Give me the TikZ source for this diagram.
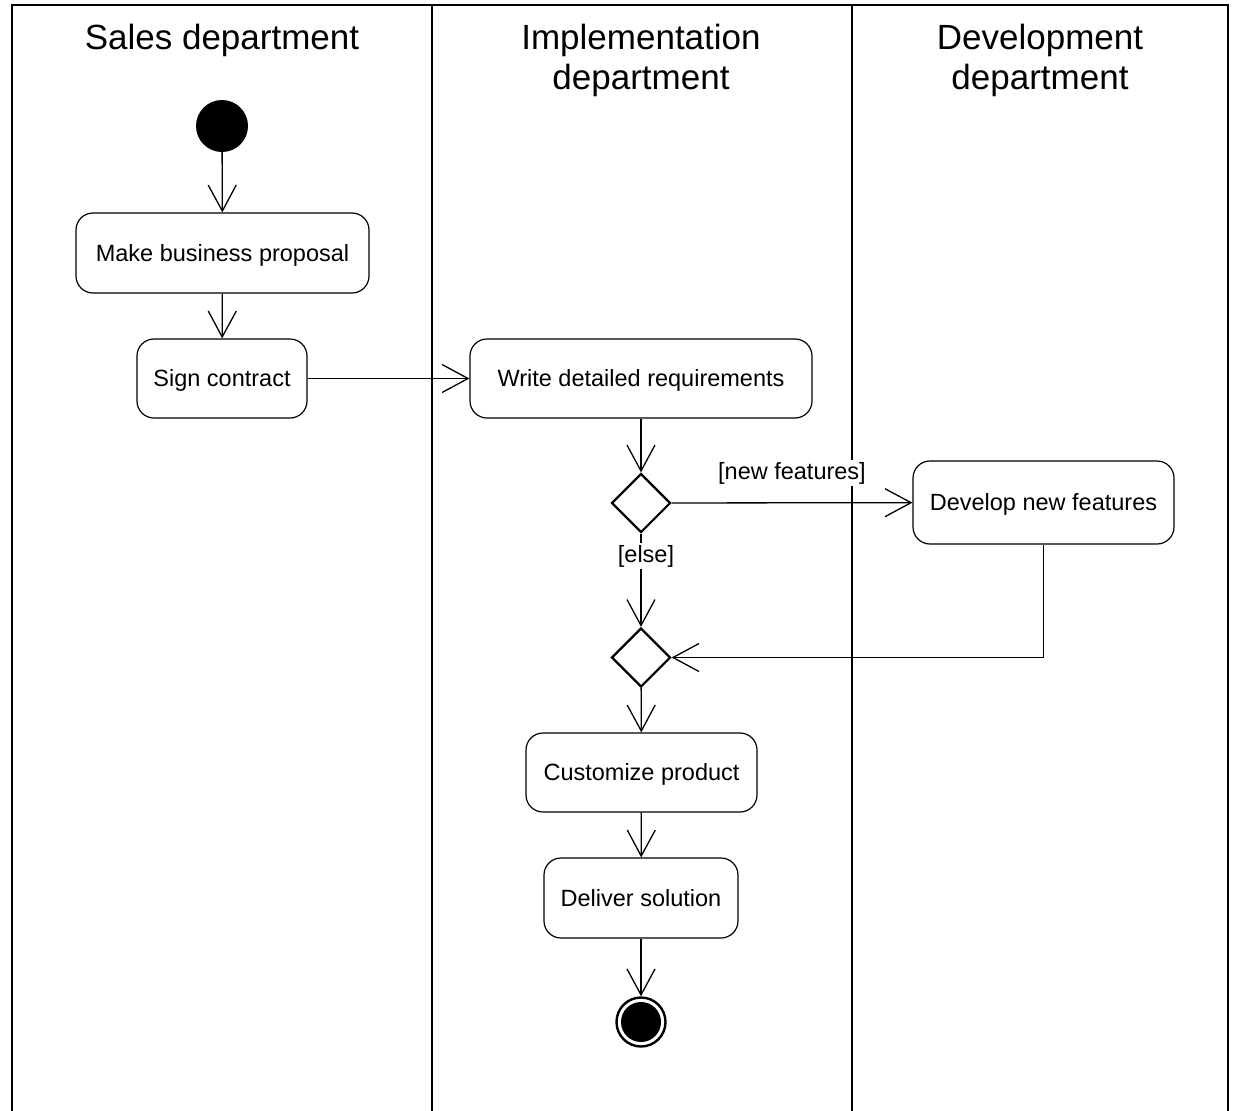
\documentclass[tikz,border=0pt]{standalone}
\usepackage{fontspec}
\setmainfont{Liberation Sans}
\usetikzlibrary{arrows.meta,shapes.geometric}

\begin{document}
\begin{tikzpicture}[x=1pt,y=-1pt,
  lane/.style={line width=2.4pt,line cap=rect},
  activity/.style={draw,line width=1.2pt,rounded corners=17pt,inner sep=0pt,
    text height=21pt,text depth=5pt,
    font=\fontsize{23.5}{28}\selectfont},
  decision/.style={draw,diamond,line width=2.2pt,minimum width=59pt,
    minimum height=59pt,inner sep=0pt},
  flow/.style={line width=1.3pt,
    -{Straight Barb[length=26pt,width=28pt,line width=1.3pt]}},
  guard/.style={fill=white,inner sep=2pt,font=\fontsize{23.5}{28}\selectfont},
  title/.style={align=center,font=\fontsize{35}{40}\selectfont}]

\useasboundingbox (0,0) rectangle (1237,1111);

% swimlane frame
\draw[lane] (12,1112) -- (12,5) -- (1228,5) -- (1228,1112);
\draw[lane] (432,5) -- (432,1112);
\draw[lane] (852,5) -- (852,1112);

% lane headings
\node[title] (hsales) at (222,40) {Sales department};
\node[title] (himpl) at (641,60) {Implementation\\department};
\node[title] (hdev) at (1040,60) {Development\\department};

% initial and final states
\node[circle,fill=black,minimum size=52pt,inner sep=0pt] (init) at (222,126) {};
\node[circle,draw,line width=2.4pt,minimum size=49pt,inner sep=0pt] (final) at (641,1022) {};
\node[circle,fill=black,minimum size=40pt,inner sep=0pt] (finaldot) at (641,1022) {};

% activities
\node[activity,minimum width=293pt,minimum height=80pt] (proposal) at (222.5,253) {Make business proposal};
\node[activity,minimum width=170pt,minimum height=79pt] (sign) at (222,378.5) {Sign contract};
\node[activity,minimum width=342pt,minimum height=79pt] (req) at (641,378.5) {Write detailed requirements};
\node[activity,minimum width=261pt,minimum height=83pt] (dev) at (1043.5,502.5) {Develop new features};
\node[activity,minimum width=231pt,minimum height=79pt] (custom) at (641.5,772.5) {Customize product};
\node[activity,minimum width=194pt,minimum height=80pt] (deliver) at (641,898) {Deliver solution};

% decision and merge
\node[decision] (split) at (641,503) {};
\node[decision] (merge) at (641,657.5) {};

% control flow
\draw[flow] (init) -- (proposal);
\draw[flow] (proposal) -- (sign);
\draw[flow] (sign) -- (req);
\draw[flow] (req) -- (split);
\draw[flow] (split) -- (dev) node[midway,above=16pt,guard] {[new features]};
\draw[flow] (split) -- (merge) node[pos=0.24,guard,xshift=5pt] {[else]};
\draw[flow] (dev.south) |- (merge.east);
\draw[flow] (merge) -- (custom);
\draw[flow] (custom) -- (deliver);
\draw[flow] (deliver) -- (final);

\end{tikzpicture}
\end{document}
